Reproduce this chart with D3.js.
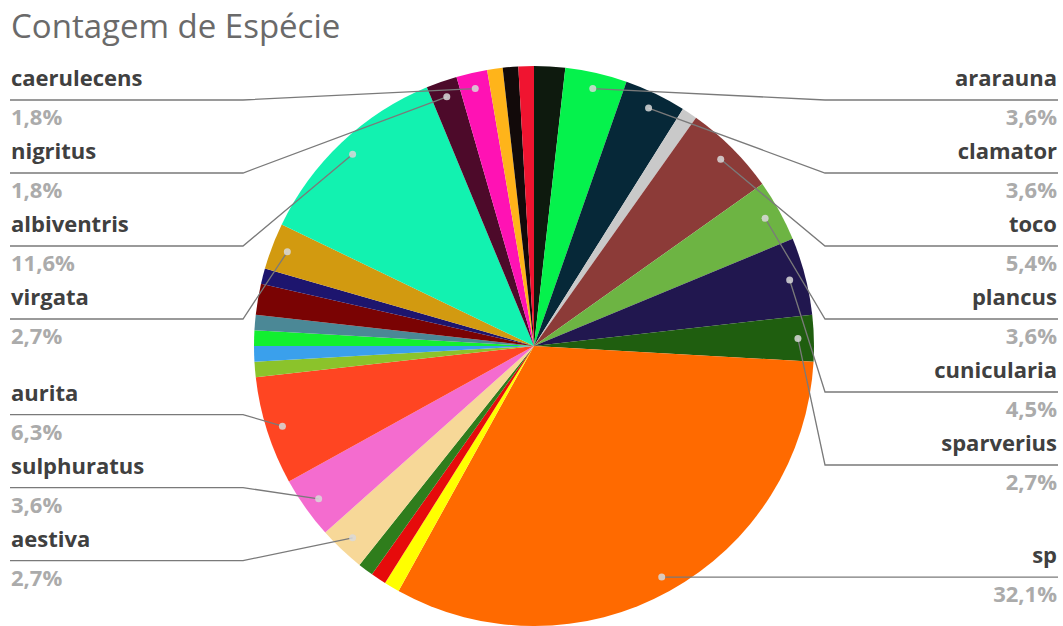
<!DOCTYPE html>
<html>
<head>
<meta charset="utf-8">
<script src="https://cdn.jsdelivr.net/npm/d3@7"></script>
<style>
  body { margin: 0; background: #fff; }
  text { font-family: "Open Sans", sans-serif; }
</style>
</head>
<body>
<div id="chart"></div>
<script>
// chart data, in clockwise order from 12 o'clock
const title = "Contagem de Espécie";
const species = ["outra 1", "ararauna", "clamator", "outra 2", "toco", "plancus", "cunicularia",
                 "sparverius", "sp", "outra 3", "outra 4", "outra 5", "aestiva", "sulphuratus",
                 "aurita", "outra 6", "outra 7", "outra 8", "outra 9", "outra 10", "outra 11",
                 "virgata", "albiventris", "nigritus", "caerulecens", "outra 12", "outra 13", "outra 14"];
const counts = [2, 4, 4, 1, 6, 4, 5, 3, 36, 1, 1, 1, 3, 4, 7, 1, 1, 1, 1, 2, 1, 3, 13, 2, 2, 1, 1, 1];
const colors = ["#0e1a0e", "#05f24c", "#062838", "#c9c9c9", "#8c3b38", "#6db443", "#21174f",
                "#1f5e0f", "#ff6a00", "#ffff00", "#e60b0b", "#2f7d1c", "#f7d898", "#f46ccf",
                "#ff4522", "#8bc32b", "#3aa0ec", "#12ef30", "#4b8896", "#7a0303", "#1d156e",
                "#d29a10", "#12f2b0", "#4d0a2a", "#ff12b4", "#ffb41a", "#120a0a", "#f01430"];
// slices that get a data label
const labeled = ["ararauna", "clamator", "toco", "plancus", "cunicularia", "sparverius", "sp",
                 "aestiva", "sulphuratus", "aurita", "virgata", "albiventris", "nigritus", "caerulecens"];

// layout constants
const w = 1063;
const h = 626;
const cx = 534;
const cy = 346;
const R = 280;
const labelR = R * 0.943;
const gap = 73;
const minY = 100;

const pt = d3.formatLocale({ decimal: ",", thousands: ".", grouping: [3], currency: ["R$", ""] }).format(".1%");
const total = d3.sum(counts);

const svg = d3.select("#chart")
              .append("svg")
              .attr("width", w)
              .attr("height", h);

svg.append("text")
   .text(title)
   .attr("x", 11)
   .attr("y", 38)
   .style("font-size", "33px")
   .style("fill", "#6a6a6a");

const pie = d3.pie().sort(null).value(d => d);
const arcs = pie(counts);
const arc = d3.arc().innerRadius(0).outerRadius(R);

const g = svg.append("g")
             .attr("transform", "translate(" + cx + "," + cy + ")");

g.selectAll("path")
 .data(arcs)
 .enter()
 .append("path")
 .attr("d", arc)
 .style("fill", (d, i) => colors[i]);

// label anchor points
const items = arcs.filter(a => labeled.includes(species[a.index])).map(a => {
    const mid = (a.startAngle + a.endAngle) / 2;
    const x = cx + labelR * Math.sin(mid);
    const y = cy - labelR * Math.cos(mid);
    return { name: species[a.index], value: counts[a.index], dx: x, dy: y, ty: y,
             side: mid < Math.PI ? "right" : "left" };
});

// push labels apart so they keep an even spacing
function spread(list) {
    list.sort((a, b) => a.ty - b.ty);
    let blocks = list.map(d => [d]);
    const start = b => d3.mean(b, d => d.ty) - (b.length - 1) * gap / 2;
    let merged = true;
    while (merged) {
        merged = false;
        for (let i = 0; i < blocks.length - 1; i++) {
            const a = blocks[i], b = blocks[i + 1];
            if (start(b) - (start(a) + (a.length - 1) * gap) < gap) {
                blocks.splice(i, 2, a.concat(b));
                merged = true;
                break;
            }
        }
    }
    let prev = -Infinity;
    blocks.forEach(b => {
        const s = start(b);
        b.forEach((d, i) => {
            d.y = Math.max(s + i * gap, minY, prev + gap);
            prev = d.y;
        });
    });
}
spread(items.filter(d => d.side === "right"));
spread(items.filter(d => d.side === "left"));

const labels = svg.append("g");

labels.selectAll("path")
      .data(items)
      .enter()
      .append("path")
      .attr("d", d => d.side === "right"
          ? d3.line()([[d.dx, d.dy], [825, d.y], [1058, d.y]])
          : d3.line()([[d.dx, d.dy], [243, d.y], [10, d.y]]))
      .style("fill", "none")
      .style("stroke", "#7a7a7a")
      .style("stroke-width", 1.3);

labels.selectAll("circle")
      .data(items)
      .enter()
      .append("circle")
      .attr("cx", d => d.dx)
      .attr("cy", d => d.dy)
      .attr("r", 3.5)
      .style("fill", "#d9d9d9")
      .style("opacity", 0.85);

labels.selectAll("text.name")
      .data(items)
      .enter()
      .append("text")
      .attr("class", "name")
      .text(d => d.name)
      .attr("x", d => d.side === "right" ? 1057 : 11)
      .attr("y", d => d.y - 14)
      .attr("text-anchor", d => d.side === "right" ? "end" : "start")
      .style("font-size", "22px")
      .style("font-weight", "bold")
      .style("fill", "#404040");

labels.selectAll("text.pct")
      .data(items)
      .enter()
      .append("text")
      .attr("class", "pct")
      .text(d => pt(d.value / total))
      .attr("x", d => d.side === "right" ? 1057 : 11)
      .attr("y", d => d.y + 25)
      .attr("text-anchor", d => d.side === "right" ? "end" : "start")
      .style("font-size", "22px")
      .style("font-weight", "bold")
      .style("fill", "#ababab");
</script>
</body>
</html>
